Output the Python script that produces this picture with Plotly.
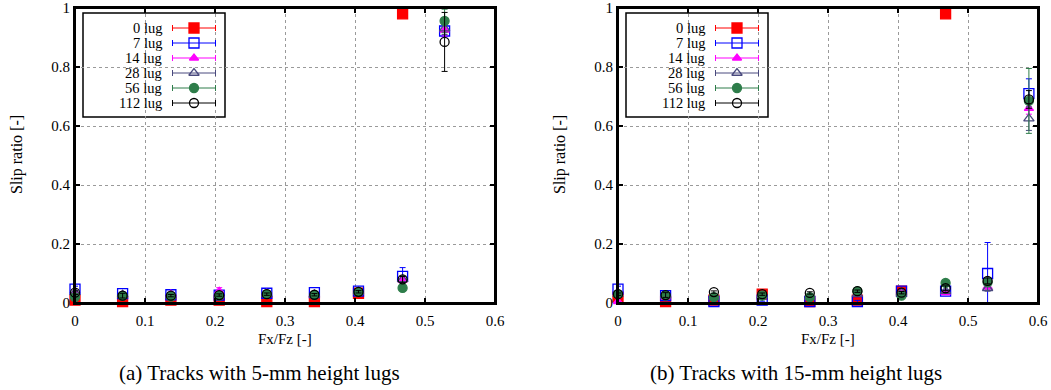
import plotly.graph_objects as go

# ---------------- data ----------------
series_names = ["0 lug", "7 lug", "14 lug", "28 lug", "56 lug", "112 lug"]

x_a = [0.0, 0.068, 0.137, 0.206, 0.274, 0.342, 0.405, 0.468, 0.528]
y_a = {
    "0 lug":   [0.010, 0.005, 0.010, 0.010, 0.005, 0.005, 0.033, 0.980, None],
    "7 lug":   [0.047, 0.032, 0.028, 0.027, 0.033, 0.035, 0.040, 0.090, 0.922],
    "14 lug":  [0.035, 0.028, 0.030, 0.040, 0.033, 0.030, 0.038, 0.078, 0.925],
    "28 lug":  [0.035, 0.028, 0.025, 0.027, 0.030, 0.028, 0.038, 0.080, 0.930],
    "56 lug":  [0.020, 0.024, 0.022, 0.025, 0.030, 0.027, 0.037, 0.051, 0.956],
    "112 lug": [0.035, 0.025, 0.025, 0.027, 0.030, 0.028, 0.038, 0.080, 0.885],
}
err_a = {
    "0 lug":   [0.002, 0.002, 0.002, 0.002, 0.002, 0.002, 0.003, 0.0, 0.0],
    "7 lug":   [0.010, 0.005, 0.004, 0.004, 0.004, 0.004, 0.004, 0.030, 0.020],
    "14 lug":  [0.006, 0.004, 0.006, 0.012, 0.004, 0.004, 0.004, 0.010, 0.020],
    "28 lug":  [0.006, 0.004, 0.004, 0.004, 0.004, 0.004, 0.004, 0.010, 0.020],
    "56 lug":  [0.006, 0.004, 0.004, 0.004, 0.004, 0.004, 0.004, 0.006, 0.040],
    "112 lug": [0.006, 0.008, 0.004, 0.004, 0.004, 0.004, 0.004, 0.010, 0.100],
}

x_b = [0.0, 0.068, 0.137, 0.206, 0.274, 0.342, 0.405, 0.468, 0.528, 0.587]
y_b = {
    "0 lug":   [0.020, 0.005, 0.010, 0.030, 0.005, 0.010, 0.040, 0.980, None, None],
    "7 lug":   [0.047, 0.025, 0.005, 0.010, 0.005, 0.005, 0.040, 0.040, 0.100, 0.710],
    "14 lug":  [0.005, 0.020, 0.020, 0.025, 0.020, 0.030, 0.035, 0.035, 0.055, 0.660],
    "28 lug":  [0.030, 0.025, 0.020, 0.025, 0.020, 0.030, 0.035, 0.040, 0.050, 0.625],
    "56 lug":  [0.030, 0.025, 0.020, 0.025, 0.020, 0.040, 0.025, 0.068, 0.070, 0.685],
    "112 lug": [0.030, 0.027, 0.037, 0.030, 0.034, 0.040, 0.035, 0.050, 0.075, 0.690],
}
err_b = {
    "0 lug":   [0.003, 0.002, 0.002, 0.003, 0.002, 0.002, 0.003, 0.0, 0.0, 0.0],
    "7 lug":   [0.010, 0.005, 0.004, 0.004, 0.004, 0.004, 0.004, 0.006, 0.105, 0.050],
    "14 lug":  [0.004, 0.004, 0.004, 0.004, 0.004, 0.004, 0.004, 0.006, 0.010, 0.020],
    "28 lug":  [0.004, 0.004, 0.004, 0.004, 0.004, 0.004, 0.004, 0.006, 0.010, 0.040],
    "56 lug":  [0.004, 0.004, 0.004, 0.004, 0.004, 0.004, 0.004, 0.006, 0.010, 0.110],
    "112 lug": [0.004, 0.008, 0.004, 0.004, 0.004, 0.004, 0.004, 0.008, 0.010, 0.030],
}

x_ticks = [0, 0.1, 0.2, 0.3, 0.4, 0.5, 0.6]
y_ticks = [0, 0.2, 0.4, 0.6, 0.8, 1]
captions = ["(a) Tracks with 5-mm height lugs", "(b) Tracks with 15-mm height lugs"]
x_title = "Fx/Fz [-]"
y_title = "Slip ratio [-]"

# ---------------- styles ----------------
colors = {"0 lug": "#ff0000", "7 lug": "#0000ff", "14 lug": "#ff00ff",
          "28 lug": "#4a4a7e", "56 lug": "#2e7d4a", "112 lug": "#000000"}
symbols = {"0 lug": "square", "7 lug": "square-open", "14 lug": "triangle-up",
           "28 lug": "triangle-up-open", "56 lug": "circle", "112 lug": "circle-open"}
sizes = {"0 lug": 10, "7 lug": 10, "14 lug": 8, "28 lug": 9, "56 lug": 9, "112 lug": 9}

FONT = "Liberation Serif"
W, H = 1051, 390

def px(x):
    return x / W

def py(y):
    return 1 - y / H

fig = go.Figure()

panels = [
    dict(xs=x_a, ys=y_a, es=err_a, xa="x", ya="y", lx="x3", ly="y3",
         x0=75, x1=495, cap_x=259),
    dict(xs=x_b, ys=y_b, es=err_b, xa="x2", ya="y2", lx="x4", ly="y4",
         x0=618, x1=1038, cap_x=796),
]
top_px, bot_px = 8, 303
X_RANGE = [0, 0.6]
Y_RANGE = [0, 1]
TICK_LEN = 5

for p in panels:
    for name in series_names:
        fig.add_trace(go.Scatter(
            x=p["xs"], y=p["ys"][name], mode="markers", name=name,
            xaxis=p["xa"], yaxis=p["ya"], showlegend=False, cliponaxis=False,
            marker=dict(symbol=symbols[name], size=sizes[name], color=colors[name],
                        line=dict(width=1.3, color=colors[name])),
            error_y=dict(type="data", array=p["es"][name], visible=True,
                         color=colors[name], thickness=1, width=3),
        ))

# manual legends (text left, sample right) on overlaying helper axes
leg_rows = list(range(len(series_names)))
for k, p in enumerate(panels):
    for i, name in enumerate(series_names):
        fig.add_trace(go.Scatter(
            x=[0], y=[leg_rows[i]], mode="markers", xaxis=p["lx"], yaxis=p["ly"],
            showlegend=False, cliponaxis=False, hoverinfo="skip",
            marker=dict(symbol=symbols[name], size=sizes[name], color=colors[name],
                        line=dict(width=1.3, color=colors[name])),
            error_x=dict(type="data", array=[1], visible=True, color=colors[name],
                         thickness=1, width=3),
        ))
        fig.add_annotation(text=name, xref="paper", yref=p["ly"], x=px(p["x0"] + 89), y=leg_rows[i],
                           xanchor="right", yanchor="middle", showarrow=False,
                           font=dict(family=FONT, size=14.5, color="black"))
    # legend box, in the panel's data units
    sx = (X_RANGE[1] - X_RANGE[0]) / (p["x1"] - p["x0"])
    sy = (Y_RANGE[1] - Y_RANGE[0]) / (bot_px - top_px)
    fig.add_shape(type="rect", xref=p["xa"], yref=p["ya"],
                  x0=X_RANGE[0] + 8 * sx, x1=X_RANGE[0] + 150 * sx,
                  y0=Y_RANGE[0] + (bot_px - 117) * sy, y1=Y_RANGE[0] + (bot_px - 13) * sy,
                  line=dict(color="black", width=1.5), fillcolor="white", layer="below")
    # plot frame (paper coordinates, not clipped)
    fig.add_shape(type="rect", xref="paper", yref="paper",
                  x0=px(p["x0"]), x1=px(p["x1"]), y0=py(bot_px), y1=py(top_px),
                  line=dict(color="black", width=2), fillcolor="rgba(0,0,0,0)", layer="above")
    # inside tick marks on all four sides
    for t in x_ticks:
        for ya0, ya1 in [(bot_px, bot_px - TICK_LEN), (top_px, top_px + TICK_LEN)]:
            fig.add_shape(type="line", xref=p["xa"], yref="paper", x0=t, x1=t,
                          y0=py(ya0), y1=py(ya1), line=dict(color="black", width=1.5),
                          layer="above")
    for t in y_ticks:
        for xa0, xa1 in [(p["x0"], p["x0"] + TICK_LEN), (p["x1"], p["x1"] - TICK_LEN)]:
            fig.add_shape(type="line", xref="paper", yref=p["ya"], x0=px(xa0), x1=px(xa1),
                          y0=t, y1=t, line=dict(color="black", width=1.5), layer="above")
    # axis titles and caption
    cx = (p["x0"] + p["x1"]) / 2
    fig.add_annotation(text=x_title, xref="paper", yref="paper", x=px(cx), y=py(339),
                       showarrow=False, xanchor="center", yanchor="middle",
                       font=dict(family=FONT, size=15, color="black"))
    fig.add_annotation(text=y_title, xref="paper", yref="paper", x=px(p["x0"] - 58), y=py(155),
                       showarrow=False, xanchor="center", yanchor="middle", textangle=-90,
                       font=dict(family=FONT, size=16, color="black"))
    fig.add_annotation(text=captions[k], xref="paper", yref="paper",
                       x=px(p["cap_x"]), y=py(373), showarrow=False,
                       xanchor="center", yanchor="middle",
                       font=dict(family=FONT, size=21, color="black"))

axis_common = dict(showline=True, linecolor="black", linewidth=2, mirror="allticks",
                   ticks="inside", ticklen=TICK_LEN, tickwidth=1.5, tickcolor="black",
                   showgrid=True, gridcolor="#9a9a9a", griddash="dot", gridwidth=1,
                   zeroline=False, automargin=False, ticklabeloverflow="allow",
                   tickfont=dict(family=FONT, size=15, color="black"))

layout = dict(
    template="none",
    width=W, height=H, margin=dict(l=0, r=0, t=0, b=0, pad=0),
    plot_bgcolor="white", paper_bgcolor="white", showlegend=False,
    font=dict(family=FONT, color="black"),
)
# legend sample geometry (pixels): sample centre 119 px right of panel left edge,
# half-length 21.5 px; rows 15 px apart starting 28 px below the top
sample_cx, sample_half = 119, 21.5
row0, row_step = 28, 15
for k, p in enumerate(panels):
    sfx = "" if k == 0 else "2"
    layout["xaxis" + sfx] = dict(domain=[px(p["x0"]), px(p["x1"])], range=X_RANGE,
                                 tickvals=x_ticks, anchor="y" + sfx, ticklabelstandoff=3,
                                 **axis_common)
    layout["yaxis" + sfx] = dict(domain=[py(bot_px), py(top_px)], range=Y_RANGE,
                                 tickvals=y_ticks, anchor="x" + sfx, **axis_common)
    width_px = p["x1"] - p["x0"]
    lx_range = [-sample_cx / sample_half, (width_px - sample_cx) / sample_half]
    height_px = bot_px - top_px
    ly_range = [(height_px - (row0 - top_px)) / row_step, -(row0 - top_px) / row_step]
    lsfx = str(3 + k)
    layout["xaxis" + lsfx] = dict(overlaying=p["xa"], range=lx_range, visible=False,
                                  anchor=p["ly"], fixedrange=True, showgrid=False)
    layout["yaxis" + lsfx] = dict(overlaying=p["ya"], range=ly_range, visible=False,
                                  anchor=p["lx"], fixedrange=True, showgrid=False)

fig.update_layout(**layout)
fig.write_html("out.html", config={"displayModeBar": False},
               post_script="document.body.style.margin='0';document.body.style.overflow='hidden';")
